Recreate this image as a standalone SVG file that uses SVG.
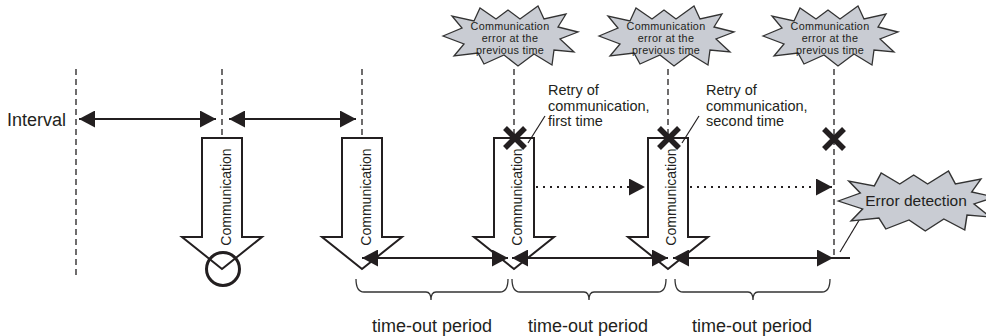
<svg xmlns="http://www.w3.org/2000/svg" width="986" height="336" viewBox="0 0 986 336">
<style>
text{font-family:"Liberation Sans",Arial,sans-serif;fill:#231f20}
.dash{stroke:#231f20;stroke-width:1.3;stroke-dasharray:6,4;fill:none}
.ln{stroke:#231f20;stroke-width:2;fill:none}
.dot{stroke:#231f20;stroke-width:2;stroke-dasharray:2,5;fill:none}
.big{fill:#fff;stroke:#231f20;stroke-width:2;stroke-linejoin:miter}
.burst{fill:#c9ccd3;stroke:#333;stroke-width:1.3;stroke-linejoin:miter}
.brace{stroke:#333;stroke-width:1.3;fill:none}
.x{stroke:#231f20;stroke-width:5.5;fill:none}
.lead{stroke:#231f20;stroke-width:1.2;fill:none}
.comm{font-size:14px;text-anchor:middle}
.sb{font-size:10.8px;text-anchor:middle;letter-spacing:0.3px}
.lbl{font-size:14.5px}
.to{font-size:18px;text-anchor:middle}
</style>
<defs>
<marker id="ah" markerWidth="16" markerHeight="17" refX="16" refY="8.5" orient="auto-start-reverse" markerUnits="userSpaceOnUse">
<path d="M0,0 L16,8.5 L0,17 Z" fill="#231f20"/>
</marker>
<polygon id="burstShape" points="-67,0 -48,-8 -58,-20 -36,-15 -30,-28 -14,-17 -2,-26 10,-17 28,-30 34,-17 56,-22 48,-9 68,-4 50,3 64,16 44,14 42,29 24,18 8,30 -6,19 -26,28 -32,17 -56,20 -46,8"/>
</defs>

<g id="connectors">
<line class="dash" x1="76" y1="69" x2="76" y2="277"/>
<line class="dash" x1="222" y1="69" x2="222" y2="138"/>
<line class="dash" x1="362" y1="69" x2="362" y2="138"/>
<line class="dash" x1="514" y1="69" x2="514" y2="138"/>
<line class="dash" x1="668" y1="69" x2="668" y2="138"/>
<line class="dash" x1="834" y1="69" x2="834" y2="258"/>
<line class="ln" x1="79" y1="119" x2="216" y2="119" marker-start="url(#ah)" marker-end="url(#ah)"/>
<line class="ln" x1="229" y1="119" x2="356" y2="119" marker-start="url(#ah)" marker-end="url(#ah)"/>
<line class="dot" x1="536" y1="187" x2="645" y2="187" marker-end="url(#ah)"/>
<line class="dot" x1="690" y1="187" x2="832" y2="187" marker-end="url(#ah)"/>
</g>

<g id="arrow1">
<polygon class="big" points="202,138 242,138 242,237 262,237 222,269 182,237 202,237"/>
<text class="comm" transform="translate(231,197) rotate(-90)">Communication</text>
<circle cx="223" cy="269" r="16.5" fill="none" stroke="#231f20" stroke-width="3"/>
</g>
<g id="arrow2">
<polygon class="big" points="342,138 382,138 382,237 402,237 362,269 322,237 342,237"/>
<text class="comm" transform="translate(371,197) rotate(-90)">Communication</text>
</g>
<g id="arrow3">
<polygon class="big" points="494,138 534,138 534,237 554,237 514,269 474,237 494,237"/>
<text class="comm" transform="translate(522,197) rotate(-90)">Communication</text>
</g>
<g id="arrow4">
<polygon class="big" points="648,138 688,138 688,237 708,237 668,269 628,237 648,237"/>
<text class="comm" transform="translate(676,197) rotate(-90)">Communication</text>
</g>

<g id="timeline">
<line class="ln" x1="362" y1="258" x2="508" y2="258" marker-start="url(#ah)" marker-end="url(#ah)"/>
<line class="ln" x1="512" y1="258" x2="668" y2="258" marker-start="url(#ah)" marker-end="url(#ah)"/>
<line class="ln" x1="673" y1="258" x2="833" y2="258" marker-start="url(#ah)" marker-end="url(#ah)"/>
<line class="ln" x1="833" y1="258" x2="850" y2="258"/>
</g>

<g id="xmarks">
<path class="x" d="M505,128 L525,148 M525,128 L505,148"/>
<path class="x" d="M659,128 L679,148 M679,128 L659,148"/>
<path class="x" d="M824,129 L844,149 M844,129 L824,149"/>
<line class="lead" x1="528" y1="143" x2="545" y2="116"/>
<line class="lead" x1="682" y1="143" x2="699" y2="116"/>
<line class="lead" x1="840" y1="252" x2="861" y2="217"/>
</g>

<g id="retry1">
<text class="lbl" x="548" y="95">Retry of</text>
<text class="lbl" x="548" y="110.5">communication,</text>
<text class="lbl" x="548" y="126">first time</text>
</g>
<g id="retry2">
<text class="lbl" x="706" y="95">Retry of</text>
<text class="lbl" x="706" y="110.5">communication,</text>
<text class="lbl" x="706" y="126">second time</text>
</g>

<g id="burst1">
<use href="#burstShape" class="burst" transform="translate(510,36)"/>
<text class="sb" x="510" y="30">Communication</text>
<text class="sb" x="510" y="42">error at the</text>
<text class="sb" x="510" y="54">previous time</text>
</g>
<g id="burst2">
<use href="#burstShape" class="burst" transform="translate(666,36)"/>
<text class="sb" x="666" y="30">Communication</text>
<text class="sb" x="666" y="42">error at the</text>
<text class="sb" x="666" y="54">previous time</text>
</g>
<g id="burst3">
<use href="#burstShape" class="burst" transform="translate(830,36)"/>
<text class="sb" x="830" y="30">Communication</text>
<text class="sb" x="830" y="42">error at the</text>
<text class="sb" x="830" y="54">previous time</text>
</g>
<g id="errorDetection">
<use href="#burstShape" class="burst" transform="translate(916,201) scale(1.16,1)" style="vector-effect:non-scaling-stroke"/>
<text x="916" y="206" font-size="15.5" text-anchor="middle">Error detection</text>
</g>

<g id="interval">
<text x="7" y="126" font-size="18">Interval</text>
</g>

<g id="braces">
<path class="brace" d="M356,279 Q356,292 364,292 L426,292 Q431,292 431,300 Q431,292 436,292 L500,292 Q508,292 508,279"/>
<path class="brace" d="M512,279 Q512,292 520,292 L584,292 Q589,292 589,300 Q589,292 594,292 L658,292 Q666,292 666,279"/>
<path class="brace" d="M675,279 Q675,292 683,292 L748,292 Q753,292 753,300 Q753,292 758,292 L822,292 Q830,292 830,279"/>
<text class="to" x="432" y="332">time-out period</text>
<text class="to" x="588" y="332">time-out period</text>
<text class="to" x="752" y="332">time-out period</text>
</g>
</svg>
